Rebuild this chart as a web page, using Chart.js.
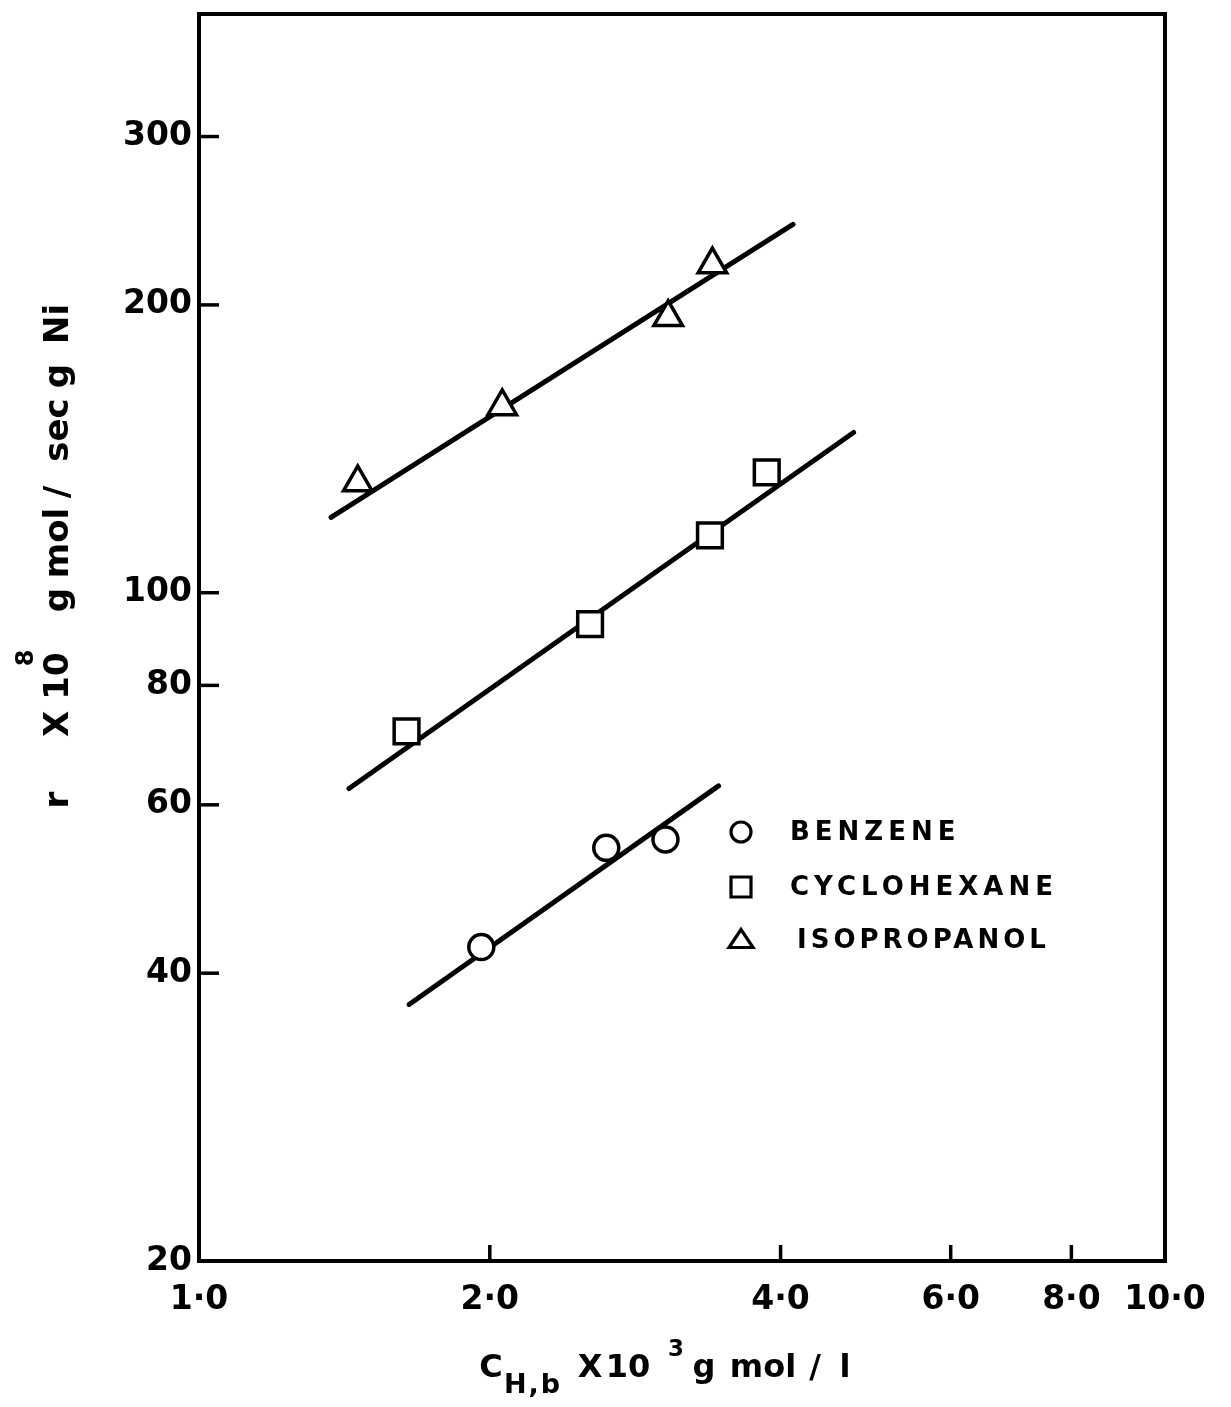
<!DOCTYPE html>
<html>
<head>
<meta charset="utf-8">
<script src="https://cdn.jsdelivr.net/npm/chart.js@4.4.1/dist/chart.umd.min.js"></script>
<style>
  html, body { margin: 0; padding: 0; background: #fff; }
</style>
</head>
<body>
<canvas id="chart" width="1231" height="1407"></canvas>
<script>
// measured points (x = C_H,b x 10^3, y = r x 10^8)
const benzeneX = [1.96, 2.64, 3.04];
const benzeneY = [42.6, 54.1, 55.2];
const cyclohexaneX = [1.64, 2.54, 3.38, 3.87];
const cyclohexaneY = [71.6, 92.7, 114.8, 133.6];
const isopropanolX = [1.46, 2.06, 3.06, 3.40];
const isopropanolY = [130.4, 156.6, 194.1, 220.4];

// fitted straight lines (end points)
const benzeneLineX = [1.65, 3.45];
const benzeneLineY = [37.1, 62.8];
const cyclohexaneLineX = [1.43, 4.76];
const cyclohexaneLineY = [62.4, 147.1];
const isopropanolLineX = [1.37, 4.12];
const isopropanolLineY = [119.9, 242.8];

const seriesNames = ['BENZENE', 'CYCLOHEXANE', 'ISOPROPANOL'];

const xTicks = [1, 2, 4, 6, 8, 10];
const xTickLabels = ['1·0', '2·0', '4·0', '6·0', '8·0', '10·0'];
const yTicks = [20, 40, 60, 80, 100, 200, 300];
const yTickLabels = ['20', '40', '60', '80', '100', '200', '300'];

const FONT = 'DejaVu Sans';

function zip(xs, ys) {
    return xs.map((x, i) => ({ x: x, y: ys[i] }));
}

function markerSet(label, xs, ys, style, radius) {
    return {
        label: label,
        data: zip(xs, ys),
        showLine: false,
        pointStyle: style,
        pointRadius: radius,
        pointHoverRadius: radius,
        pointBorderWidth: 3.5,
        pointBorderColor: '#000',
        pointBackgroundColor: '#fff',
        order: 0
    };
}

function lineSet(xs, ys) {
    return {
        label: '',
        data: zip(xs, ys),
        showLine: true,
        borderColor: '#000',
        borderWidth: 5,
        borderCapStyle: 'round',
        pointRadius: 0,
        pointHoverRadius: 0,
        order: 1
    };
}

function drawMarker(ctx, style, x, y, r) {
    ctx.beginPath();
    if (style === 'circle') {
        ctx.arc(x, y, r, 0, Math.PI * 2);
    } else if (style === 'rect') {
        ctx.rect(x - r, y - r, 2 * r, 2 * r);
    } else {
        ctx.moveTo(x, y - r * 1.05);
        ctx.lineTo(x + r * 1.2, y + r * 0.75);
        ctx.lineTo(x - r * 1.2, y + r * 0.75);
        ctx.closePath();
    }
    ctx.fillStyle = '#fff';
    ctx.fill();
    ctx.stroke();
}

function hText(ctx, str, cx, by, size, spacing) {
    ctx.save();
    ctx.font = 'bold ' + size + 'px "' + FONT + '"';
    ctx.letterSpacing = (spacing || 0) + 'px';
    ctx.textAlign = 'center';
    ctx.textBaseline = 'alphabetic';
    ctx.fillText(str, cx, by);
    ctx.restore();
}

function vText(ctx, str, bx, cy, size) {
    ctx.save();
    ctx.translate(bx, cy);
    ctx.rotate(-Math.PI / 2);
    ctx.font = 'bold ' + size + 'px "' + FONT + '"';
    ctx.textAlign = 'center';
    ctx.textBaseline = 'alphabetic';
    ctx.fillText(str, 0, 0);
    ctx.restore();
}

// pin the plot frame top to the reference position
const areaPlugin = {
    id: 'area',
    afterLayout(chart) {
        const y = chart.scales.y;
        chart.chartArea.top = 14;
        chart.chartArea.height = chart.chartArea.bottom - 14;
        y.top = 14;
        y.height = y.bottom - y.top;
        y.configure();
    }
};

const framePlugin = {
    id: 'frame',
    afterDraw(chart) {
        const ctx = chart.ctx;
        const a = chart.chartArea;
        const xs = chart.scales.x;
        const ys = chart.scales.y;
        ctx.save();
        ctx.strokeStyle = '#000';
        ctx.fillStyle = '#000';
        ctx.lineWidth = 4;
        ctx.strokeRect(a.left, a.top, a.right - a.left, a.bottom - a.top);

        // inward tick marks
        ctx.lineWidth = 3.5;
        yTicks.slice(1).forEach(v => {
            const py = ys.getPixelForValue(v);
            ctx.beginPath();
            ctx.moveTo(a.left, py);
            ctx.lineTo(a.left + 20, py);
            ctx.stroke();
        });
        xTicks.slice(1, -1).forEach(v => {
            const px = xs.getPixelForValue(v);
            ctx.beginPath();
            ctx.moveTo(px, a.bottom);
            ctx.lineTo(px, a.bottom - 16);
            ctx.stroke();
        });

        // legend
        const rows = [832, 887, 940];
        ctx.lineWidth = 3.2;
        chart.data.datasets.slice(0, 3).forEach((ds, i) => {
            drawMarker(ctx, ds.pointStyle, 741, rows[i], 10);
            ctx.fillStyle = '#000';
            ctx.save();
            ctx.font = 'bold 26px "' + FONT + '"';
            ctx.letterSpacing = i === 2 ? '4px' : '5px';
            ctx.textAlign = 'left';
            ctx.textBaseline = 'middle';
            ctx.fillText(ds.label, i === 2 ? 797 : 790, rows[i] + 1);
            ctx.restore();
        });

        // x axis title: C_H,b X 10^3 g mol / l
        ctx.fillStyle = '#000';
        hText(ctx, 'C', 491, 1377, 32);
        hText(ctx, 'H,b', 533, 1393, 27, 2);
        hText(ctx, 'X', 590, 1377, 32);
        hText(ctx, '10', 628, 1377, 32);
        hText(ctx, '3', 676, 1356, 23);
        hText(ctx, 'g', 704, 1377, 32);
        hText(ctx, 'mol', 763, 1377, 32);
        hText(ctx, '/', 815, 1377, 32);
        hText(ctx, 'l', 845, 1377, 32);

        // y axis title: r X 10^8 g mol / sec g Ni
        vText(ctx, 'r', 68, 800, 34);
        vText(ctx, 'X', 68, 724, 34);
        vText(ctx, '10', 68, 676, 34);
        vText(ctx, '8', 33, 658, 24);
        vText(ctx, 'g', 68, 600, 34);
        vText(ctx, 'mol', 68, 543, 34);
        vText(ctx, '/', 68, 492, 34);
        vText(ctx, 'sec', 68, 430, 34);
        vText(ctx, 'g', 68, 376, 34);
        vText(ctx, 'Ni', 68, 324, 34);
        ctx.restore();
    }
};

const ctx = document.getElementById('chart').getContext('2d');
new Chart(ctx, {
    type: 'scatter',
    data: {
        datasets: [
            markerSet(seriesNames[0], benzeneX, benzeneY, 'circle', 12.5),
            markerSet(seriesNames[1], cyclohexaneX, cyclohexaneY, 'rect', 17.5),
            markerSet(seriesNames[2], isopropanolX, isopropanolY, 'triangle', 16.5),
            lineSet(benzeneLineX, benzeneLineY),
            lineSet(cyclohexaneLineX, cyclohexaneLineY),
            lineSet(isopropanolLineX, isopropanolLineY)
        ]
    },
    options: {
        responsive: false,
        animation: false,
        devicePixelRatio: 1,
        layout: { padding: { top: 14, right: 66, bottom: 0, left: 0 } },
        plugins: {
            legend: { display: false },
            tooltip: { enabled: false }
        },
        scales: {
            x: {
                type: 'logarithmic',
                min: 1,
                max: 10,
                afterBuildTicks: s => { s.ticks = xTicks.map(v => ({ value: v })); },
                afterFit: s => { s.height = 1407 - 1261; s.paddingLeft = 0; s.paddingRight = 0; },
                grid: { display: false, drawTicks: false },
                border: { display: false },
                ticks: {
                    autoSkip: false,
                    maxRotation: 0,
                    padding: 20,
                    color: '#000',
                    font: { family: FONT, size: 33, weight: 'bold' },
                    callback: v => xTickLabels[xTicks.indexOf(v)]
                }
            },
            y: {
                type: 'logarithmic',
                min: 20,
                max: 403,
                afterBuildTicks: s => { s.ticks = yTicks.map(v => ({ value: v })); },
                afterFit: s => { s.width = 199; s.paddingTop = 0; s.paddingBottom = 0; },
                grid: { display: false, drawTicks: false },
                border: { display: false },
                ticks: {
                    autoSkip: false,
                    padding: 7,
                    color: '#000',
                    font: { family: FONT, size: 33, weight: 'bold' },
                    callback: v => yTickLabels[yTicks.indexOf(v)]
                }
            }
        }
    },
    plugins: [areaPlugin, framePlugin]
});
</script>
</body>
</html>
